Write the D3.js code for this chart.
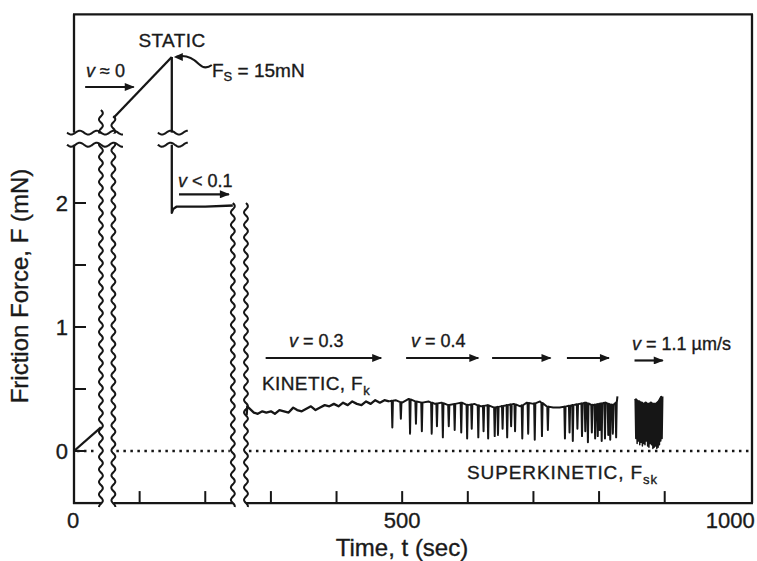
<!DOCTYPE html>
<html><head><meta charset="utf-8">
<script src="https://cdn.jsdelivr.net/npm/d3@7"></script>
<style>
body{margin:0;background:#fff}
svg{display:block}
text{font-family:"Liberation Sans",Arial,Helvetica,sans-serif;fill:#1a1a1a;stroke:#1a1a1a;stroke-width:0.35px}
</style>
</head><body>
<svg id="c" width="757" height="561"></svg>
<script>
// ---------------- DATA ----------------
const xTicksMajor = [0, 500, 1000];
const xTicksMinor = [100, 200, 300, 400, 600, 700, 800, 900];
const yTicksMajor = [0, 1, 2];
const yTicksMinor = [0.5, 1.5];

// time-axis breaks (start, end) in seconds
const breakT0 = [41, 242];
const breakT1 = [60, 262];

// static region (sec, mN)
const riseT = [0, 41];
const riseF = [0, 0.19];
const climbT = [60, 149];
const climbF = [12.5, 15];
const dropHiT = [149, 149];
const dropHiF = [15, 11.9];
const stepT = [149, 149, 151, 156, 200, 242];
const stepF = [2.47, 1.92, 1.95, 1.97, 1.97, 1.98];

// kinetic, smooth part
const kinT = [263, 264, 268, 274, 280, 287, 293, 300, 306, 313, 320, 327, 334, 340, 347, 354, 361, 368, 375, 382, 389, 396, 403, 410, 417, 424, 431, 438, 445, 452, 459, 466, 473, 480];
const kinF = [0.29, 0.36, 0.34, 0.31, 0.30, 0.32, 0.31, 0.32, 0.30, 0.33, 0.32, 0.31, 0.35, 0.33, 0.32, 0.34, 0.36, 0.33, 0.35, 0.37, 0.36, 0.38, 0.36, 0.39, 0.37, 0.40, 0.38, 0.37, 0.40, 0.38, 0.41, 0.39, 0.41, 0.40];

// stick-slip part: baseline and spikes
const baseT = [480, 490, 500, 510, 520, 530, 540, 550, 560, 570, 580, 590, 600, 610, 620, 630, 640, 650, 660, 670, 680, 690, 700, 710, 720, 730, 740, 750, 760, 770, 780, 790, 800, 810, 820, 826, 828];
const baseF = [0.40, 0.41, 0.39, 0.42, 0.40, 0.39, 0.40, 0.38, 0.39, 0.37, 0.38, 0.39, 0.37, 0.38, 0.36, 0.37, 0.35, 0.36, 0.37, 0.38, 0.36, 0.39, 0.38, 0.40, 0.36, 0.35, 0.35, 0.36, 0.37, 0.38, 0.39, 0.37, 0.38, 0.39, 0.37, 0.39, 0.44];
const spikeT = [485, 498, 512, 521, 530, 545, 553, 562, 571, 580, 590, 599, 606, 616, 624, 631, 641, 646, 653, 660, 666, 672, 683, 692, 702, 713, 722, 748, 755, 760, 767, 774, 779, 783, 789, 794, 798, 801, 804, 809, 814, 817, 821, 826];
const spikeMin = [0.19, 0.26, 0.14, 0.22, 0.16, 0.14, 0.20, 0.11, 0.20, 0.17, 0.15, 0.10, 0.18, 0.11, 0.16, 0.10, 0.12, 0.13, 0.18, 0.11, 0.20, 0.16, 0.10, 0.14, 0.09, 0.12, 0.17, 0.10, 0.15, 0.08, 0.18, 0.12, 0.16, 0.07, 0.15, 0.10, 0.12, 0.17, 0.08, 0.10, 0.13, 0.09, 0.14, 0.11];

// superkinetic burst
const superT = [855, 857, 859, 861, 863, 865, 867, 869, 871, 873, 875, 877, 879, 881, 883, 885, 887, 889, 891, 893, 895];
const superTop = [0.42, 0.41, 0.40, 0.40, 0.39, 0.39, 0.38, 0.38, 0.39, 0.38, 0.38, 0.38, 0.39, 0.38, 0.38, 0.38, 0.38, 0.39, 0.40, 0.42, 0.44];
const superMin = [0.10, 0.06, 0.08, 0.05, 0.07, 0.04, 0.06, 0.05, 0.08, 0.04, 0.03, 0.06, 0.05, 0.02, 0.03, 0.04, 0.02, 0.03, 0.05, 0.08, 0.10];

// velocity arrows (start sec, end sec)
const arrowT0 = [160, 292, 506, 637, 751, 854];
const arrowT1 = [236, 468, 616, 726, 815, 897];

// ---------------- DRAW ----------------
const svg = d3.select("#c");
const x = d3.scaleLinear().domain([0, 1033]).range([74, 752]);
const yLo = d3.scaleLinear().domain([0, 2]).range([451, 203]);
const yHi = d3.scaleLinear().domain([12.5, 15]).range([118, 57]);
const FMIN = -0.42, LO_TOP = 2.47, HI_BOT = 11.9, FTOP = 16.75;
const ink = "#161616";
const LW = 2.3;

const line = d3.line();
const g = svg.append("g");

function seg(x1, y1, x2, y2, w) {
  g.append("line").attr("x1", x1).attr("y1", y1).attr("x2", x2).attr("y2", y2)
    .attr("stroke", ink).attr("stroke-width", w || LW);
}
function wavyV(x0, y0, y1, amp, wl) {
  const pts = [];
  for (let y = y0; y <= y1; y += 1) pts.push([x0 + amp * Math.sin(2 * Math.PI * (y - y0) / wl), y]);
  g.append("path").attr("d", d3.line().curve(d3.curveBasis)(pts)).attr("fill", "none")
    .attr("stroke", ink).attr("stroke-width", 2);
}
function wavyH(x0, x1, y0, amp, wl) {
  const pts = [];
  for (let xx = x0; xx <= x1; xx += 1) pts.push([xx, y0 + amp * Math.sin(2 * Math.PI * (xx - x0) / wl)]);
  g.append("path").attr("d", d3.line().curve(d3.curveBasis)(pts)).attr("fill", "none")
    .attr("stroke", ink).attr("stroke-width", 2);
}

const yBot = yLo(FMIN), yTop = yHi(FTOP);
const xL = x(0), xR = x(1033);

// frame: top, right
seg(xL - 1, yTop, xR + 1, yTop);
seg(xR, yTop, xR, yBot);
// left axis with break
seg(xL, yBot + 1, xL, yLo(LO_TOP));
seg(xL, yHi(HI_BOT), xL, yTop);
// bottom axis with breaks
seg(xL - 1, yBot, x(breakT0[0]), yBot);
seg(x(breakT1[0]), yBot, x(breakT0[1]), yBot);
seg(x(breakT1[1]), yBot, xR + 1, yBot);

// dotted zero line
const zeroSegs = [[0, breakT0[0]], [breakT1[0], breakT0[1]], [breakT1[1], 1033]];
zeroSegs.forEach(s => {
  g.append("line").attr("x1", x(s[0]) + 3).attr("x2", x(s[1]) - 3)
    .attr("y1", yLo(0)).attr("y2", yLo(0))
    .attr("stroke", ink).attr("stroke-width", 2.5).attr("stroke-dasharray", "2.5,4.5");
});

// ticks
xTicksMinor.concat(xTicksMajor.slice(1, 2)).forEach(t => seg(x(t), yBot, x(t), yBot - 12, 2));
yTicksMajor.concat(yTicksMinor).forEach(v => seg(xL, yLo(v), xL + 12, yLo(v), 2));

// tick labels
xTicksMajor.forEach(t => {
  g.append("text").attr("x", x(t) - (t === 0 ? 1 : 0)).attr("y", 528).attr("text-anchor", "middle")
    .attr("font-size", 22).text(t);
});
yTicksMajor.forEach(v => {
  g.append("text").attr("x", 68).attr("y", yLo(v) + 8).attr("text-anchor", "end")
    .attr("font-size", 22).text(v);
});
// axis titles
g.append("text").attr("x", 402).attr("y", 556).attr("text-anchor", "middle").attr("font-size", 24)
  .text("Time, t (sec)");
g.append("text").attr("transform", "translate(28,286) rotate(-90)").attr("text-anchor", "middle")
  .attr("font-size", 24).text("Friction Force, F (mN)");

// wavy time-break lines
wavyV(x(breakT0[0]), 110, yBot + 4, 2, 12.5);
wavyV(x(breakT1[0]), 116, yBot + 4, 2, 12.5);
wavyV(x(breakT0[1]), yLo(2.0), yBot + 4, 2, 12.5);
wavyV(x(breakT1[1]), yLo(2.0), yBot + 4, 2, 12.5);

// force-axis break marks (white gap + two wavy lines)
g.append("rect").attr("x", xL - 6).attr("y", yHi(HI_BOT) + 1).attr("width", 50)
  .attr("height", yLo(LO_TOP) - yHi(HI_BOT) - 2).attr("fill", "#fff");
const peakTime = climbT[1];
[yHi(HI_BOT), yLo(LO_TOP)].forEach(yy => {
  wavyH(xL - 7, x(breakT1[0]) + 10, yy, 2, 17);
  wavyH(x(peakTime) - 14, x(peakTime) + 16, yy, 2, 17);
});

// traces
const traceStyle = p => p.attr("fill", "none").attr("stroke", ink).attr("stroke-width", LW).attr("stroke-linejoin", "round");
traceStyle(g.append("path").attr("d", line(riseT.map((t, i) => [x(t), yLo(riseF[i])]))));
traceStyle(g.append("path").attr("d", line(climbT.map((t, i) => [x(t), yHi(climbF[i])]))));
traceStyle(g.append("path").attr("d", line(dropHiT.map((t, i) => [x(t), yHi(dropHiF[i])]))));
traceStyle(g.append("path").attr("d", line(stepT.map((t, i) => [x(t), yLo(stepF[i])]))));
traceStyle(g.append("path").attr("d", line(kinT.map((t, i) => [x(t), yLo(kinF[i])]))));

// stick-slip trace
const baseAt = d3.scaleLinear().domain(baseT).range(baseF);
let ss = [];
let si = 0;
baseT.forEach((t, i) => {
  while (si < spikeT.length && spikeT[si] < t) {
    const st = spikeT[si];
    ss.push([x(st) - 0.6, yLo(baseAt(st))], [x(st), yLo(spikeMin[si])], [x(st) + 0.6, yLo(baseAt(st))]);
    si++;
  }
  ss.push([x(t), yLo(baseF[i])]);
});
traceStyle(g.append("path").attr("d", line(ss))).attr("stroke-width", 2);

// superkinetic burst
let sk = [];
superT.forEach((t, i) => { sk.push([x(t), yLo(superTop[i])], [x(t) + 0.65, yLo(superMin[i])]); });
sk.push([x(superT[superT.length - 1]) + 1.3, yLo(superTop[superTop.length - 1])]);
traceStyle(g.append("path").attr("d", line(sk))).attr("stroke-width", 1.5);
traceStyle(g.append("path").attr("d", line(superT.map((t, i) => [x(t), yLo(superTop[i])]))));

// arrows
const defs = svg.append("defs");
defs.append("marker").attr("id", "ah").attr("viewBox", "0 0 10 8").attr("refX", 9).attr("refY", 4)
  .attr("markerWidth", 12).attr("markerHeight", 8).attr("markerUnits", "userSpaceOnUse").attr("orient", "auto")
  .append("path").attr("d", "M0,0 L10,4 L0,8 Z").attr("fill", ink);
function arrow(x1, x2, yy) {
  g.append("line").attr("x1", x1).attr("x2", x2).attr("y1", yy).attr("y2", yy)
    .attr("stroke", ink).attr("stroke-width", 2.2).attr("marker-end", "url(#ah)");
}
// v≈0 arrow (upper region)
arrow(x(17), x(91), yHi(13.77));
arrowT0.forEach((t0, i) => {
  const yy = i === 0 ? yLo(2.07) : (i === arrowT0.length - 1 ? yLo(0.73) : yLo(0.75));
  arrow(x(t0), x(arrowT1[i]), yy);
});

// annotations text
const STATIC = g.append("text").attr("x", 172).attr("y", 47).attr("font-size", 19)
  .attr("text-anchor", "middle").attr("letter-spacing", 0.4).text("STATIC");
const t1 = g.append("text").attr("x", 86).attr("y", 77).attr("font-size", 18);
t1.append("tspan").attr("font-style", "italic").text("v");
t1.append("tspan").text(" \u2248 0");
const fs = g.append("text").attr("x", 212).attr("y", 77).attr("font-size", 19);
fs.append("tspan").text("F");
fs.append("tspan").attr("font-size", 13).attr("dy", 4).text("S");
fs.append("tspan").attr("dy", -4).text(" = 15mN");
// leader to peak
g.append("path").attr("d", `M${x(149) + 4},${yHi(15)} C ${x(149) + 14},${yHi(15) - 3} ${x(149) + 22},${yHi(15) + 2} ${x(149) + 27},${yHi(15) + 7} S ${x(149) + 36},${yHi(15) + 11} ${x(149) + 40},${yHi(15) + 8}`)
  .attr("fill", "none").attr("stroke", ink).attr("stroke-width", 2);
g.append("path").attr("d", `M${x(149) + 2},${yHi(15)} l9,-4 l0,8 z`).attr("fill", ink);

function vLabel(xx, yy, rest, size) {
  const t = g.append("text").attr("x", xx).attr("y", yy).attr("font-size", size || 18);
  t.append("tspan").attr("font-style", "italic").text("v");
  t.append("tspan").text(rest);
  return t;
}
vLabel(178, 187, " < 0.1");
vLabel(289, 347, " = 0.3");
vLabel(411, 347, " = 0.4");
vLabel(632, 350, " = 1.1 \u00b5m/s");

const kt = g.append("text").attr("x", 262).attr("y", 390).attr("font-size", 19).attr("letter-spacing", 0.4);
kt.append("tspan").text("KINETIC, F");
kt.append("tspan").attr("font-size", 13).attr("dy", 5).text("k");
const skt = g.append("text").attr("x", 467).attr("y", 479).attr("font-size", 19).attr("letter-spacing", 0.9);
skt.append("tspan").text("SUPERKINETIC, F");
skt.append("tspan").attr("font-size", 13).attr("dy", 5).text("sk");
</script>
</body></html>
